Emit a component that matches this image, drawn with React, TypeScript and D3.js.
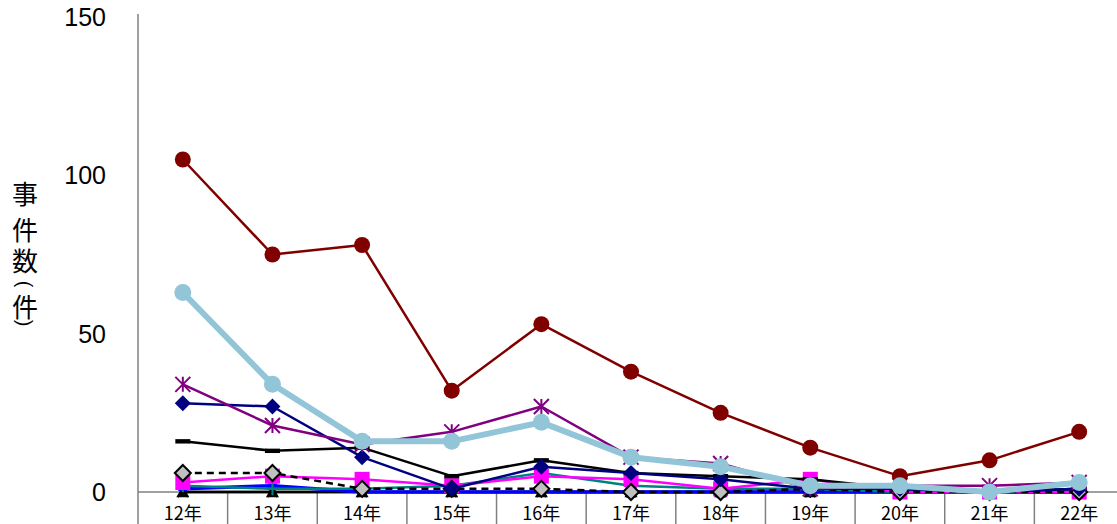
import React from "react";
import * as d3 from "d3";

const categories = ["12年", "13年", "14年", "15年", "16年", "17年", "18年", "19年", "20年", "21年", "22年"];
const yTicks = [0, 50, 100, 150];
const yLabelChars = ["事", "件", "数", "(", "件", ")"];

const seriesTriangle = [0, 0, 0, 0, 0, 0, 0, 0, 0, 0, 0];
const seriesCrossX = [0, 0, 0, 0, 0, 0, 0, 0, 0, 0, 0];
const seriesBlue = [1, 2, 0, 0, 0, 0, 0, 0, 0, 0, 0];
const seriesTeal = [2, 1, 1, 2, 6, 2, 1, 1, 0, 0, 1];
const seriesMagenta = [3, 5, 4, 2, 5, 4, 1, 4, 0, 0, 0];
const seriesGrayDiamond = [6, 6, 1, 1, 1, 0, 0, 1, 0, 0, 0];
const seriesBlackBar = [16, 13, 14, 5, 10, 6, 5, 4, 1, 0, 1];
const seriesNavy = [28, 27, 11, 1, 8, 6, 4, 1, 1, 0, 1];
const seriesPurple = [34, 21, 15, 19, 27, 11, 9, 1, 2, 2, 3];
const seriesDarkRed = [105, 75, 78, 32, 53, 38, 25, 14, 5, 10, 19];
const seriesLightBlue = [63, 34, 16, 16, 22, 11, 8, 2, 2, 0, 3];

type Spec = {
  values: number[];
  color: string;
  width: number;
  dash?: string;
  marker: string;
  size: number;
  fill: string;
  mstroke?: string;
};

const specs: Spec[] = [
  { values: seriesTriangle, color: "#000000", width: 2.5, marker: "triangle", size: 13, fill: "#000000" },
  { values: seriesCrossX, color: "#000000", width: 2.5, marker: "x", size: 10, fill: "none", mstroke: "#000000" },
  { values: seriesBlue, color: "#0000FF", width: 3.5, marker: "bar", size: 9, fill: "#0000FF" },
  { values: seriesTeal, color: "#008080", width: 2.5, marker: "plus", size: 13, fill: "none", mstroke: "#008080" },
  { values: seriesMagenta, color: "#FF00FF", width: 2.5, marker: "square", size: 15, fill: "#FF00FF" },
  { values: seriesGrayDiamond, color: "#000000", width: 2.5, dash: "7,5", marker: "diamond", size: 16, fill: "#C0C0C0", mstroke: "#000000" },
  { values: seriesBlackBar, color: "#000000", width: 2.5, marker: "bar", size: 15, fill: "#000000" },
  { values: seriesNavy, color: "#000080", width: 2.5, marker: "diamond", size: 16, fill: "#000080" },
  { values: seriesPurple, color: "#800080", width: 2.5, marker: "asterisk", size: 15, fill: "none", mstroke: "#800080" },
  { values: seriesDarkRed, color: "#800000", width: 2.5, marker: "circle", size: 16, fill: "#800000" },
  { values: seriesLightBlue, color: "#92C5D8", width: 6, marker: "circle", size: 17, fill: "#92C5D8" },
];

const W = 1117;
const H = 524;

function markerPath(kind: string, s: number): string {
  const h = s / 2;
  switch (kind) {
    case "circle":
      return d3.symbol(d3.symbolCircle, Math.PI * h * h)() as string;
    case "square":
      return `M${-h},${-h}H${h}V${h}H${-h}Z`;
    case "diamond":
      return `M0,${-h}L${h},0L0,${h}L${-h},0Z`;
    case "triangle":
      return `M0,${-h}L${h},${h * 0.8}L${-h},${h * 0.8}Z`;
    case "bar":
      return `M${-h},-2.2H${h}V2.2H${-h}Z`;
    case "plus":
      return `M${-h},0H${h}M0,${-h}V${h}`;
    case "x":
      return `M${-h},${-h}L${h},${h}M${h},${-h}L${-h},${h}`;
    case "asterisk":
      return `M${-h},${-h}L${h},${h}M${h},${-h}L${-h},${h}M0,${-h}V${h}`;
    default:
      return "";
  }
}

export default function App() {
  const x = d3.scaleBand<string>().domain(categories).range([138, 1124]).padding(0);
  const y = d3.scaleLinear().domain([0, 150]).range([492, 17]);
  const cx = (c: string) => (x(c) as number) + x.bandwidth() / 2;
  const line = d3
    .line<number>()
    .x((_, i) => cx(categories[i]))
    .y((v) => y(v));

  const boundaries = categories.map((c) => x(c) as number).concat([(x(categories[categories.length - 1]) as number) + x.bandwidth()]);
  const labelYs = [192, 228, 259, 284, 305, 323];

  return (
    <svg width={W} height={H} style={{ display: "block", position: "absolute", left: 0, top: 0, background: "#fff" }}>
      {/* y axis */}
      <line x1={138} x2={138} y1={y(150) - 3} y2={492} stroke="#808080" strokeWidth={1.5} />
      {yTicks.map((t) => (
        <text key={t} x={106} y={y(t)} textAnchor="end" dominantBaseline="central" fontFamily="'Liberation Sans', Arial, sans-serif" fontSize={25} fill="#000">
          {t}
        </text>
      ))}
      {yLabelChars.map((ch, i) => {
        const isParen = ch === "(" || ch === ")";
        return (
          <text
            key={i}
            x={0}
            y={0}
            transform={`translate(25,${labelYs[i]})${isParen ? " rotate(90)" : ""}`}
            textAnchor="middle"
            dominantBaseline="central"
            fontFamily={isParen ? "'Liberation Sans', Arial, sans-serif" : "'Noto Sans CJK JP', sans-serif"}
            fontSize={isParen ? 20 : 26}
            fill="#000"
          >
            {ch}
          </text>
        );
      })}
      {/* x axis */}
      <line x1={138} x2={W} y1={492} y2={492} stroke="#808080" strokeWidth={1.5} />
      {boundaries.map((b, i) => (
        <line key={i} x1={b} x2={b} y1={492} y2={H} stroke="#808080" strokeWidth={1.5} />
      ))}
      {categories.map((c) => (
        <text key={c} x={cx(c)} y={512} textAnchor="middle" dominantBaseline="central" fontFamily="'Noto Sans CJK JP', sans-serif" fontSize={18} fill="#000">
          {c}
        </text>
      ))}
      {/* series */}
      {specs.map((s, si) => (
        <g key={si}>
          <path d={line(s.values) as string} fill="none" stroke={s.color} strokeWidth={s.width} strokeDasharray={s.dash} strokeLinejoin="round" />
          {s.values.map((v, i) => (
            <path
              key={i}
              transform={`translate(${cx(categories[i])},${y(v)})`}
              d={markerPath(s.marker, s.size)}
              fill={s.fill}
              stroke={s.mstroke || "none"}
              strokeWidth={s.mstroke ? 2 : 0}
            />
          ))}
        </g>
      ))}
    </svg>
  );
}
